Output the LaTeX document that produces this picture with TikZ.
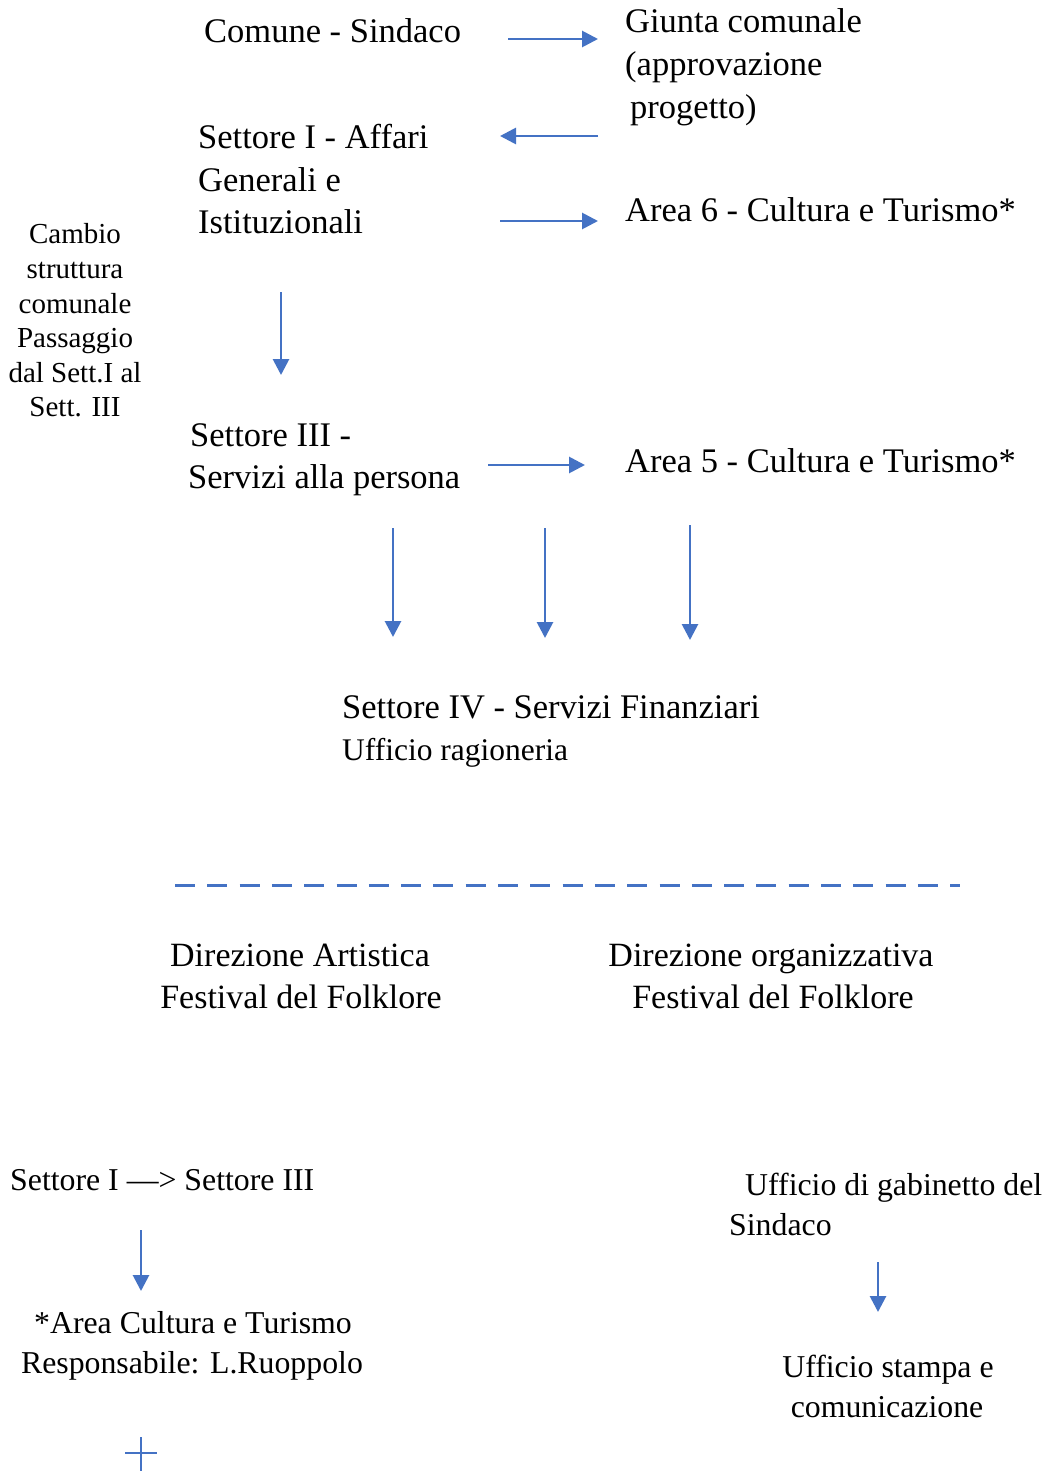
\documentclass[tikz,border=0pt]{standalone}
\usepackage{fontspec}
\setmainfont{Liberation Serif}
\usetikzlibrary{arrows.meta}
\definecolor{arrblue}{HTML}{4472C4}
\tikzset{
  big/.style={font=\fontsize{34.5}{40}\selectfont, inner sep=0pt, anchor=base west},
  bigc/.style={font=\fontsize{34}{40}\selectfont, inner sep=0pt, anchor=base},
  mid/.style={font=\fontsize{31.5}{36}\selectfont, inner sep=0pt, anchor=base west},
  small/.style={font=\fontsize{29}{33}\selectfont, inner sep=0pt, anchor=base},
  tnr/.style={font=\fontsize{31.8}{38}\selectfont, inner sep=0pt, anchor=base west},
  tnrc/.style={font=\fontsize{31.8}{38}\selectfont, inner sep=0pt, anchor=base},
  conn/.style={draw=arrblue, line width=2.8pt, -{Triangle[length=16pt,width=16pt]}},
  plain/.style={draw=arrblue, line width=2.5pt},
}
\begin{document}
\begin{tikzpicture}[x=1pt,y=-1pt]
\useasboundingbox[fill=white] (0,0) rectangle (1048,1472);
% top section
\node[big] (comune) at (204,43) {Comune - Sindaco};
\node[big] (giunta1) at (625,33) {Giunta comunale};
\node[big] (giunta2) at (625,76) {(approvazione};
\node[big] (giunta3) at (630,118) {progetto)};
\node[big] (sett1a) at (198,148) {Settore I - Affari};
\node[big] (sett1b) at (198,191) {Generali e};
\node[big] (sett1c) at (198,233) {Istituzionali};
\node[big] (area6) at (625,221) {Area 6 - Cultura e Turismo*};
\node[small] (cam1) at (75,243) {Cambio};
\node[small] (cam2) at (75,278) {struttura};
\node[small] (cam3) at (75,313) {comunale};
\node[small] (cam4) at (75,347) {Passaggio};
\node[small] (cam5) at (75,382) {dal Sett.I al};
\node[small] (cam6) at (75,416) {Sett. III};
\node[big] (sett3a) at (190,446) {Settore III -};
\node[big] (sett3b) at (188,488) {Servizi alla persona};
\node[big] (area5) at (625,472) {Area 5 - Cultura e Turismo*};
\node[big] (sett4) at (342,718) {Settore IV - Servizi Finanziari};
\node[mid] (ragion) at (342,760) {Ufficio ragioneria};
% arrows top
\coordinate (a1s) at (508,39); \coordinate (a1e) at (598,39);
\coordinate (a2s) at (598,136); \coordinate (a2e) at (500,136);
\coordinate (a3s) at (500,221); \coordinate (a3e) at (598,221);
\coordinate (a4s) at (281,292); \coordinate (a4e) at (281,375);
\coordinate (a5s) at (488,465); \coordinate (a5e) at (585,465);
\coordinate (a6s) at (393,528); \coordinate (a6e) at (393,637);
\coordinate (a7s) at (545,528); \coordinate (a7e) at (545,638);
\coordinate (a8s) at (690,525); \coordinate (a8e) at (690,640);
\draw[conn] (a1s) -- (a1e);
\draw[conn] (a2s) -- (a2e);
\draw[conn] (a3s) -- (a3e);
\draw[conn] (a4s) -- (a4e);
\draw[conn] (a5s) -- (a5e);
\draw[conn] (a6s) -- (a6e);
\draw[conn] (a7s) -- (a7e);
\draw[conn] (a8s) -- (a8e);
% dashed separator
\coordinate (dl) at (175,885); \coordinate (dr) at (960,885);
\draw[draw=arrblue, line width=3pt, dash pattern=on 20pt off 12.3pt] (dl) -- (dr);
% middle
\node[bigc] (dirart1) at (300,966) {Direzione Artistica};
\node[bigc] (dirart2) at (301,1008) {Festival del Folklore};
\node[bigc] (dirorg1) at (771,966) {Direzione organizzativa};
\node[bigc] (dirorg2) at (773,1008) {Festival del Folklore};
% bottom left
\node[tnr] (s1s3) at (10,1190) {Settore I —> Settore III};
\coordinate (a9s) at (141,1230); \coordinate (a9e) at (141,1291);
\draw[conn] (a9s) -- (a9e);
\node[tnrc] (areact) at (193,1333) {*Area Cultura e Turismo};
\node[tnrc] (resp) at (192,1373) {Responsabile: L.Ruoppolo};
\coordinate (ph1) at (125,1453); \coordinate (ph2) at (157,1453);
\coordinate (pv1) at (141,1437); \coordinate (pv2) at (141,1471);
\draw[plain] (ph1) -- (ph2);
\draw[plain] (pv1) -- (pv2);
% bottom right
\node[tnr] (gab1) at (745,1195) {Ufficio di gabinetto del};
\node[tnr] (gab2) at (729,1235) {Sindaco};
\coordinate (a10s) at (878,1262); \coordinate (a10e) at (878,1312);
\draw[conn] (a10s) -- (a10e);
\node[tnrc] (stampa1) at (888,1377) {Ufficio stampa e};
\node[tnrc] (stampa2) at (887,1417) {comunicazione};
\end{tikzpicture}
\end{document}
